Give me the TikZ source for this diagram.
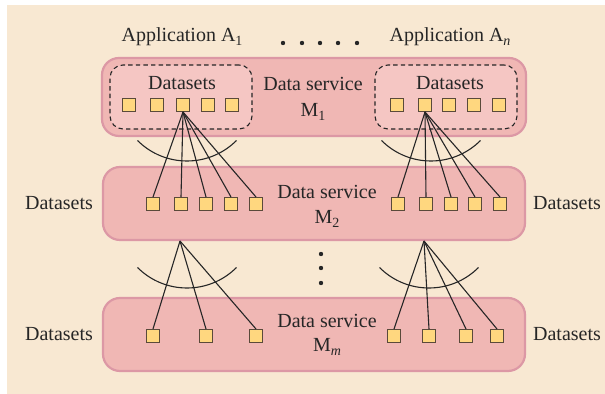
\documentclass[tikz,border=0pt]{standalone}
\usepackage{fontspec}
\setmainfont{Liberation Serif}
\definecolor{bgcol}{HTML}{F8E8D2}
\definecolor{boxfill}{HTML}{F0B7B4}
\definecolor{boxborder}{HTML}{DC98A5}
\definecolor{dsfill}{HTML}{F5C6C3}
\definecolor{sqfill}{HTML}{FFD77F}
\definecolor{sqborder}{HTML}{5A4A3A}
\definecolor{txt}{HTML}{262626}
\definecolor{linecol}{HTML}{262626}
\newcommand\lowidx[1]{\raisebox{-0.45ex}{\fontsize{7}{8}\selectfont #1}}
\begin{document}
\begin{tikzpicture}[x=0.5pt,y=-0.5pt,
  svcbox/.style={draw=boxborder,fill=boxfill,line width=1.1pt,rounded corners=8.5pt,
    minimum width=212pt,inner sep=0pt},
  dsbox/.style={draw=linecol,fill=dsfill,dashed,dash pattern=on 2.2pt off 1.6pt,line width=0.55pt,
    rounded corners=6.5pt,minimum width=71pt,minimum height=32pt,inner sep=0pt},
  sq/.style={draw=sqborder,fill=sqfill,minimum size=6.5pt,inner sep=0pt,line width=0.5pt},
  lbl/.style={text=txt,font=\fontsize{10}{12}\selectfont,inner sep=0pt},
  link/.style={draw=linecol,line width=0.55pt},
  dotnode/.style={circle,fill=linecol,minimum size=2.2pt,inner sep=0pt}]
\useasboundingbox (0,0) rectangle (605,394);
\fill[bgcol] (7,5) rectangle (605,394);

% service boxes
\node[svcbox,minimum height=39pt] (M1) at (314,97) {};
\node[svcbox,minimum height=36.5pt,minimum width=211pt] (M2) at (314,203.5) {};
\node[svcbox,minimum height=36.5pt,minimum width=211pt] (M3) at (314,334.5) {};

% dashed dataset boxes
\node[dsbox] (D1) at (181,97) {};
\node[dsbox] (Dn) at (446,97) {};

% labels
\node[lbl] (appA1) at (182,37) {Application A\lowidx{1}};
\node[lbl] (appAn) at (450,37) {Application A\lowidx{\itshape n}};
\node[lbl] (ds1) at (182,83) {Datasets};
\node[lbl] (dsn) at (450,83) {Datasets};
\node[lbl] (svc1) at (313,84) {Data service};
\node[lbl] (m1) at (313,112) {M\lowidx{1}};
\node[lbl] (svc2) at (327,192) {Data service};
\node[lbl] (m2) at (327,219) {M\lowidx{2}};
\node[lbl] (svc3) at (327,321) {Data service};
\node[lbl] (m3) at (327,347) {M\lowidx{\itshape m}};
\node[lbl] (dsL2) at (59,203) {Datasets};
\node[lbl] (dsR2) at (567,203) {Datasets};
\node[lbl] (dsL3) at (59,334) {Datasets};
\node[lbl] (dsR3) at (567,334) {Datasets};

% dots
\foreach \x [count=\i] in {283,302,320,338,357} \node[dotnode] (h\i) at (\x,43) {};
\foreach \y [count=\i] in {254,268,283} \node[dotnode] (v\i) at (321,\y) {};

% squares
\foreach \x [count=\i] in {129,157,183,208,232} \node[sq] (La\i) at (\x,105) {};
\foreach \x [count=\i] in {397,425,449,474,499} \node[sq] (Ra\i) at (\x,105) {};
\foreach \x [count=\i] in {153,181,206,231,256} \node[sq] (Lb\i) at (\x,204) {};
\foreach \x [count=\i] in {398,426,451,475,500} \node[sq] (Rb\i) at (\x,204) {};
\foreach \x [count=\i] in {153,206,256} \node[sq] (Lc\i) at (\x,336) {};
\foreach \x [count=\i] in {394,429,466,497} \node[sq] (Rc\i) at (\x,336) {};

% links M1 -> M2
\foreach \i in {1,...,5} \draw[link] (La3.south) -- (Lb\i.north);
\foreach \i in {1,...,5} \draw[link] (Ra2.south) -- (Rb\i.north);
% links M2 -> Mm
\coordinate (Lapex) at (180,241);
\coordinate (Rapex) at (424,241);
\foreach \i in {1,...,3} \draw[link] (Lapex) -- (Lc\i.north);
\foreach \i in {1,...,4} \draw[link] (Rapex) -- (Rc\i.north);

% arcs
\draw[link] (137.5,140.5) arc[start angle=135,end angle=45,radius=70];
\draw[link] (381.5,140.5) arc[start angle=135,end angle=45,radius=70];
\draw[link] (137.5,267.5) arc[start angle=135,end angle=45,radius=70];
\draw[link] (379.5,267.5) arc[start angle=135,end angle=45,radius=70];
\end{tikzpicture}
\end{document}
